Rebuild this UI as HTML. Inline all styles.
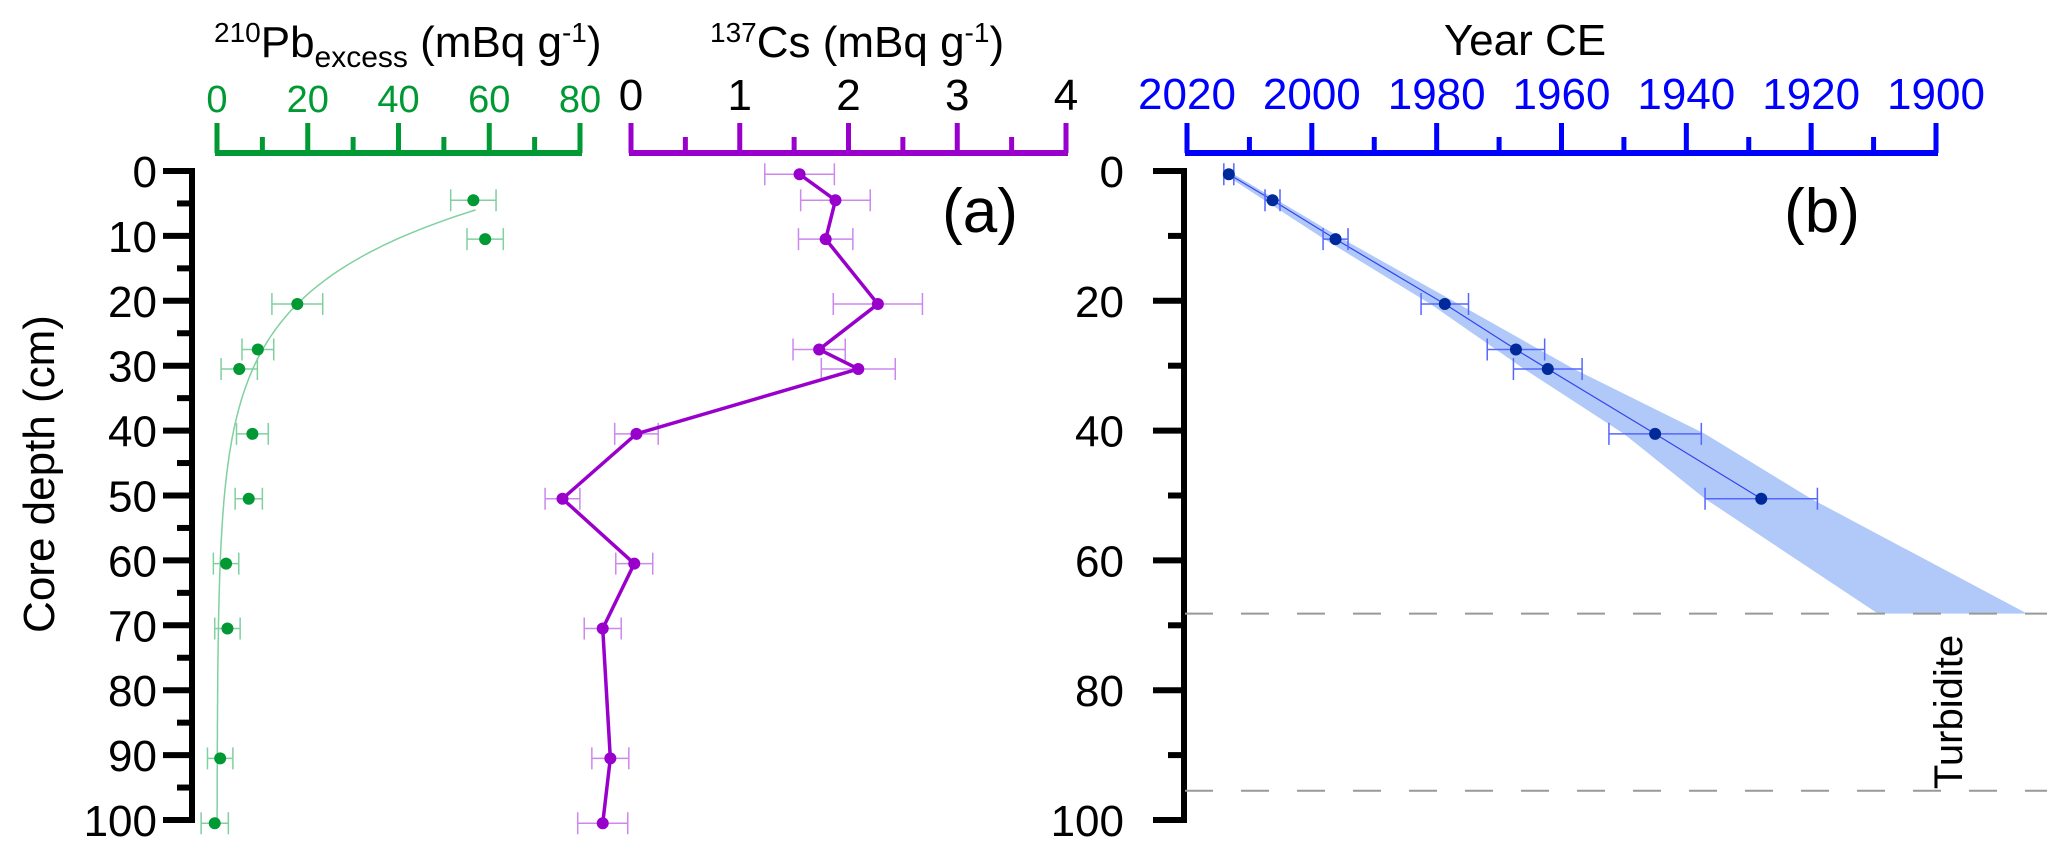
<!DOCTYPE html>
<html><head><meta charset="utf-8"><style>
html,body{margin:0;padding:0;background:#fff;}
svg{display:block;font-family:"Liberation Sans",Arial,sans-serif;}
</style></head><body>
<svg id="chart" width="2067" height="855" viewBox="0 0 2067 855" xmlns="http://www.w3.org/2000/svg"></svg>
<script>
// ---- data ----
const pbDepth = [4.5, 10.5, 20.5, 27.5, 30.5, 40.5, 50.5, 60.5, 70.5, 90.5, 100.5];
const pbValue = [56.5, 59.1, 17.7, 9.0, 4.9, 7.8, 7.0, 2.0, 2.3, 0.7, -0.5];
const pbErr = [5, 4, 5.6, 3.5, 4, 3.5, 3, 2.8, 2.8, 2.8, 3];
const pbFitParams = [92.5, 0.0807]; // A, k of exponential fit
const csDepth = [0.5, 4.5, 10.5, 20.5, 27.5, 30.5, 40.5, 50.5, 60.5, 70.5, 90.5, 100.5];
const csValue = [1.55, 1.88, 1.79, 2.27, 1.73, 2.09, 0.05, -0.63, 0.03, -0.26, -0.19, -0.26];
const csErr = [0.32, 0.32, 0.25, 0.41, 0.24, 0.34, 0.2, 0.16, 0.17, 0.17, 0.17, 0.23];
const ageDepth = [0.5, 4.5, 10.5, 20.5, 27.5, 30.5, 40.5, 50.5];
const ageYear = [2013.3, 2006.3, 1996.2, 1978.7, 1967.3, 1962.2, 1945, 1928];
const ageErr = [0.8, 1.2, 2, 3.8, 4.6, 5.5, 7.4, 9];
const bandDepth = [0.5, 10.5, 20.5, 30.5, 40.5, 50.5, 68.2];
const bandYoung = [2014, 1998, 1981, 1966, 1950, 1937, 1909.3];
const bandOld = [2012.5, 1995, 1976.5, 1958, 1937, 1920, 1885.4];
const turbiditeDepths = [68.2, 95.5];
const depthTicksA = [0,10,20,30,40,50,60,70,80,90,100];
const depthTicksB = [0,20,40,60,80,100];
const pbTicks = [0,20,40,60,80];
const csTicks = [0,1,2,3,4];
const yearTicks = [2020,2000,1980,1960,1940,1920,1900];

// ---- scales ----
const yD = d => 171 + d * 6.49;
const xPb = v => 217 + v * (580 - 217) / 80;
const xCs = v => 631 + v * (1066 - 631) / 4;
const xYr = y => 1187 + (2020 - y) * (1936 - 1187) / 120;

const svg = document.getElementById('chart');
const NS = 'http://www.w3.org/2000/svg';
function el(tag, attrs, parent) {
  const e = document.createElementNS(NS, tag);
  for (const k in attrs) e.setAttribute(k, attrs[k]);
  (parent || svg).appendChild(e);
  return e;
}
function grp(name) {
  const g = el('g', {});
  
  
  return g;
}

// ---- left depth axis ----
const gA = grp('depth-axis-a');
el('line', {x1:192,y1:yD(0)-3,x2:192,y2:yD(100)+3,stroke:'#000','stroke-width':6}, gA);
for (let d = 0; d <= 100; d += 5) {
  const major = d % 10 === 0;
  el('line', {x1: major ? 163 : 177, y1: yD(d), x2: 192, y2: yD(d), stroke:'#000','stroke-width':6}, gA);
}
depthTicksA.forEach(d => {
  const t = el('text', {x:157,y:yD(d)+16,'font-size':44,'text-anchor':'end',fill:'#000'}, gA);
  t.textContent = d;
});
const yt = el('text', {x:54,y:474,'font-size':44,'text-anchor':'middle',transform:'rotate(-90 54 474)',fill:'#000'});


yt.textContent = 'Core depth (cm)';

// ---- Pb axis ----
const gPb = grp('pb-axis');
el('line', {x1:xPb(0)-2,y1:153,x2:xPb(80)+2,y2:153,stroke:'#009933','stroke-width':6}, gPb);
for (let v = 0; v <= 80; v += 10) {
  el('line', {x1:xPb(v),y1: v % 20 === 0 ? 123 : 137,x2:xPb(v),y2:153,stroke:'#009933','stroke-width':5}, gPb);
}
pbTicks.forEach(v => {
  const t = el('text', {x:xPb(v),y:112,'font-size':38,'text-anchor':'middle',fill:'#009933'}, gPb);
  t.textContent = v;
});
const pbTitle = el('text', {x:214,y:57,'font-size':44,fill:'#000'});


pbTitle.innerHTML = '<tspan font-size="28" dy="-15">210</tspan><tspan dy="15">Pb</tspan><tspan font-size="30" dy="10">excess</tspan><tspan dy="-10"> (mBq g</tspan><tspan font-size="28" dy="-15">-1</tspan><tspan dy="15">)</tspan>';

// ---- Cs axis ----
const gCs = grp('cs-axis');
el('line', {x1:xCs(0)-2,y1:153,x2:xCs(4)+2,y2:153,stroke:'#9900cc','stroke-width':6}, gCs);
for (let v = 0; v <= 4; v += 0.5) {
  el('line', {x1:xCs(v),y1: v % 1 === 0 ? 123 : 137,x2:xCs(v),y2:153,stroke:'#9900cc','stroke-width':5}, gCs);
}
csTicks.forEach(v => {
  const t = el('text', {x:xCs(v),y:110,'font-size':44,'text-anchor':'middle',fill:'#000'}, gCs);
  t.textContent = v;
});
const csTitle = el('text', {x:710,y:57,'font-size':44,fill:'#000'});


csTitle.innerHTML = '<tspan font-size="28" dy="-15">137</tspan><tspan dy="15">Cs (mBq g</tspan><tspan font-size="28" dy="-15">-1</tspan><tspan dy="15">)</tspan>';

// ---- Pb series ----
const gPbS = grp('pb-series');
let fit = '';
for (let d = 6; d <= 100.5; d += 0.5) {
  const v = pbFitParams[0] * Math.exp(-pbFitParams[1] * d);
  fit += (fit ? 'L' : 'M') + xPb(v).toFixed(1) + ',' + yD(d).toFixed(1);
}
el('path', {d:fit,fill:'none',stroke:'#80d0a0','stroke-width':1.5}, gPbS);
pbDepth.forEach((d, i) => {
  const y = yD(d), x1 = xPb(pbValue[i]-pbErr[i]), x2 = xPb(pbValue[i]+pbErr[i]);
  el('path', {d:`M${x1},${y}H${x2}M${x1},${y-11}V${y+11}M${x2},${y-11}V${y+11}`,stroke:'#80d0a0','stroke-width':1.5,fill:'none'}, gPbS);
  const c = el('circle', {cx:xPb(pbValue[i]),cy:y,r:6,fill:'#009933'}, gPbS);
  
  
});

// ---- Cs series ----
const gCsS = grp('cs-series');
csDepth.forEach((d, i) => {
  const y = yD(d), x1 = xCs(csValue[i]-csErr[i]), x2 = xCs(csValue[i]+csErr[i]);
  el('path', {d:`M${x1},${y}H${x2}M${x1},${y-11}V${y+11}M${x2},${y-11}V${y+11}`,stroke:'#cc88ee','stroke-width':1.5,fill:'none'}, gCsS);
});
el('polyline', {points: csDepth.map((d,i)=>xCs(csValue[i])+','+yD(d)).join(' '),fill:'none',stroke:'#9900cc','stroke-width':3.5}, gCsS);
csDepth.forEach((d, i) => {
  const c = el('circle', {cx:xCs(csValue[i]),cy:yD(d),r:6,fill:'#9900cc'}, gCsS);
  
  
});

const la = el('text', {x:980,y:232,'font-size':62,'text-anchor':'middle',fill:'#000'});


la.textContent = '(a)';

// ---- right panel ----
const gB = grp('depth-axis-b');
el('line', {x1:1184,y1:yD(0)-3,x2:1184,y2:yD(100)+3,stroke:'#000','stroke-width':6}, gB);
for (let d = 0; d <= 100; d += 10) {
  const major = d % 20 === 0;
  el('line', {x1: major ? 1153 : 1168, y1: yD(d), x2: 1184, y2: yD(d), stroke:'#000','stroke-width':6}, gB);
}
depthTicksB.forEach(d => {
  const t = el('text', {x:1124,y:yD(d)+16,'font-size':44,'text-anchor':'end',fill:'#000'}, gB);
  t.textContent = d;
});

const gY = grp('year-axis');
el('line', {x1:xYr(2020)-2,y1:153,x2:xYr(1900)+2,y2:153,stroke:'#0000ff','stroke-width':6}, gY);
for (let y = 2020; y >= 1900; y -= 10) {
  el('line', {x1:xYr(y),y1: y % 20 === 0 ? 123 : 137,x2:xYr(y),y2:153,stroke:'#0000ff','stroke-width':5}, gY);
}
yearTicks.forEach(v => {
  const t = el('text', {x:xYr(v),y:109,'font-size':44,'text-anchor':'middle',fill:'#0000ff'}, gY);
  t.textContent = v;
});
const yrTitle = el('text', {x:1525,y:55,'font-size':44,'text-anchor':'middle',fill:'#000'});


yrTitle.textContent = 'Year CE';

// band
const bandPts = bandDepth.map((d,i)=>xYr(bandYoung[i])+','+yD(d))
  .concat(bandDepth.slice().reverse().map((d,j)=>{const i=bandDepth.length-1-j;return xYr(bandOld[i])+','+yD(d);}));
const band = el('polygon', {points:bandPts.join(' '),fill:'#b0c9f9'});



// turbidite dashed lines
const gT = grp('turbidite-lines');
turbiditeDepths.forEach(d => {
  el('line', {x1:1185,y1:yD(d),x2:2047,y2:yD(d),stroke:'#999','stroke-width':2,'stroke-dasharray':'28 28'}, gT);
});
const tt = el('text', {x:0,y:0,'font-size':40,'text-anchor':'middle',fill:'#000',transform:'translate(1962 712) rotate(-90)'});


tt.textContent = 'Turbidite';

// age series
const gAge = grp('age-series');
el('polyline', {points: ageDepth.map((d,i)=>xYr(ageYear[i])+','+yD(d)).join(' '),fill:'none',stroke:'#3344ee','stroke-width':1.2}, gAge);
ageDepth.forEach((d, i) => {
  const y = yD(d), x1 = xYr(ageYear[i]+ageErr[i]), x2 = xYr(ageYear[i]-ageErr[i]);
  el('path', {d:`M${x1},${y}H${x2}M${x1},${y-11}V${y+11}M${x2},${y-11}V${y+11}`,stroke:'#5566ff','stroke-width':1.5,fill:'none'}, gAge);
  const c = el('circle', {cx:xYr(ageYear[i]),cy:y,r:6,fill:'#002a99'}, gAge);
  
  
});

const lb = el('text', {x:1822,y:232,'font-size':62,'text-anchor':'middle',fill:'#000'});


lb.textContent = '(b)';
</script>
</body></html>
